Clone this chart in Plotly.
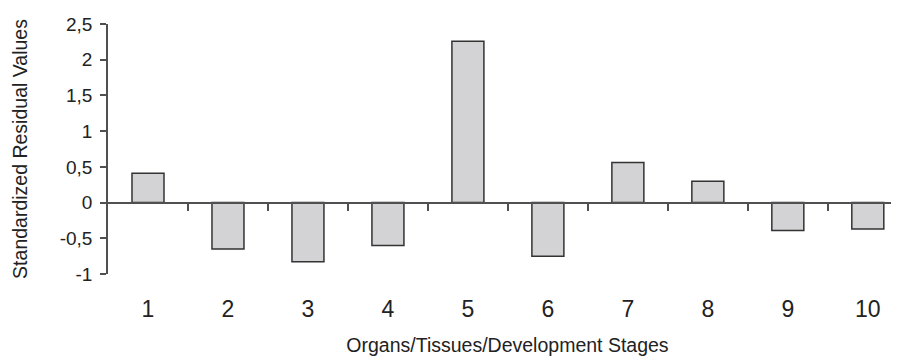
import plotly.graph_objects as go

categories = [1, 2, 3, 4, 5, 6, 7, 8, 9, 10]
category_labels = ["1", "2", "3", "4", "5", "6", "7", "8", "9", "10"]
residuals = [0.41, -0.65, -0.83, -0.60, 2.26, -0.75, 0.56, 0.30, -0.39, -0.37]
y_tickvals = [-1, -0.5, 0, 0.5, 1, 1.5, 2, 2.5]
y_ticktext = ["-1", "-0,5", "0", "0,5", "1", "1,5", "2", "2,5"]
boundaries = [1.5, 2.5, 3.5, 4.5, 5.5, 6.5, 7.5, 8.5, 9.5]

FONT = "Liberation Sans, Arial, sans-serif"
AXIS = "#505050"
TEXT = "#222222"

fig = go.Figure()
fig.add_trace(go.Bar(
    x=categories, y=residuals, width=0.4,
    marker=dict(color="#d3d3d5", line=dict(color="#333333", width=1.5)),
    showlegend=False,
))
# invisible trace to activate the zero-line axis
fig.add_trace(go.Scatter(x=[categories[0]], y=[0], xaxis="x2", mode="markers",
                         marker=dict(opacity=0), showlegend=False, hoverinfo="skip"))

y_min, y_max = -1, 2.5
zero_pos = (0 - y_min) / (y_max - y_min)

fig.update_layout(
    width=899, height=360,
    margin=dict(l=100, r=0, t=16, b=94, autoexpand=False),
    plot_bgcolor="white", paper_bgcolor="white",
    font=dict(family=FONT, color=TEXT),
    xaxis=dict(
        range=[0.5, 10.49], tickvals=categories, ticktext=category_labels,
        showline=False, showgrid=False, zeroline=False,
        ticks="outside", ticklen=14, tickcolor="rgba(0,0,0,0)",
        tickfont=dict(size=23, family=FONT, color=TEXT),
        automargin=False,
        title=dict(text="Organs/Tissues/Development Stages",
                   font=dict(size=19.5, family=FONT, color=TEXT), standoff=17),
    ),
    xaxis2=dict(
        overlaying="x", matches="x", anchor="free", position=zero_pos,
        showline=True, linecolor=AXIS, linewidth=1.5,
        tickvals=boundaries, ticks="outside", ticklen=8, tickwidth=1.5, tickcolor=AXIS,
        showticklabels=False, showgrid=False, zeroline=False,
    ),
    yaxis=dict(
        range=[y_min, y_max], tickvals=y_tickvals, ticktext=y_ticktext,
        showline=True, linecolor=AXIS, linewidth=1.5,
        ticks="outside", ticklen=6, tickwidth=1.5, tickcolor=AXIS,
        ticklabelstandoff=4,
        showgrid=False, zeroline=False, automargin=False,
        tickfont=dict(size=19, family=FONT, color=TEXT),
        title=dict(text="Standardized Residual Values",
                   font=dict(size=19.5, family=FONT, color=TEXT), standoff=27),
    ),
)

fig.write_html("out.html")
